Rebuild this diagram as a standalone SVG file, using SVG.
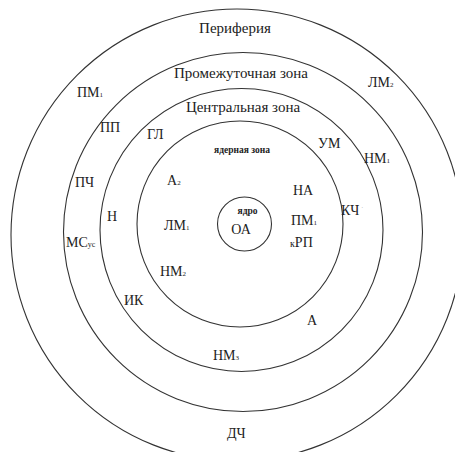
<svg xmlns="http://www.w3.org/2000/svg" width="455" height="452" viewBox="0 0 455 452">
<style>
.ring{fill:none;stroke:#333;stroke-width:1.1}
text{font-family:"Liberation Serif","Times New Roman",serif;fill:#222;font-size:14px}
.zone{font-size:15px}
.b{font-weight:bold;font-size:9.5px}
.s{font-size:7px}
</style>
<rect width="455" height="452" fill="#fff"/>
<g id="rings">
<circle id="periphery" class="ring" cx="237" cy="235" r="226"/>
<circle id="intermediate" class="ring" cx="243" cy="232" r="179.5"/>
<circle id="central" class="ring" cx="241.5" cy="230" r="141.5"/>
<circle id="nuclear" class="ring" cx="240" cy="224" r="103"/>
<circle id="core" class="ring" cx="244.5" cy="224" r="27"/>
</g>
<g id="zone-labels">
<text class="zone" x="235" y="33" text-anchor="middle">Периферия</text>
<text class="zone" x="241" y="78" text-anchor="middle">Промежуточная зона</text>
<text class="zone" x="243" y="112" text-anchor="middle">Центральная зона</text>
<text class="b" x="242" y="153" text-anchor="middle">ядерная зона</text>
<text class="b" x="247.5" y="214" text-anchor="middle">ядро</text>
<text x="241" y="234" text-anchor="middle" font-size="15">ОА</text>
</g>
<g id="labels">
<text x="167" y="185">А<tspan class="s">2</tspan></text>
<text x="164" y="230">ЛМ<tspan class="s">1</tspan></text>
<text x="160" y="276">НМ<tspan class="s">2</tspan></text>
<text x="293" y="195">НА</text>
<text x="291" y="225">ПМ<tspan class="s">1</tspan></text>
<text x="290" y="247"><tspan font-size="10">к</tspan>РП</text>
<text x="341" y="215">КЧ<tspan font-size="6" dx="2" dy="-5" fill="#999">·</tspan></text>
<text x="364" y="163">НМ<tspan class="s">1</tspan></text>
<text x="318" y="148">УМ</text>
<text x="368" y="87">ЛМ<tspan class="s">2</tspan></text>
<text x="77" y="97">ПМ<tspan class="s">1</tspan></text>
<text x="100" y="132">ПП</text>
<text x="147" y="139">ГЛ</text>
<text x="75" y="187">ПЧ</text>
<text x="107" y="221">Н</text>
<text x="66" y="247">МС<tspan font-size="8">ус</tspan></text>
<text x="124" y="305">ИК</text>
<text x="307" y="325">А</text>
<text x="213" y="360">НМ<tspan class="s">3</tspan></text>
<text x="227" y="438">ДЧ</text>
</g>
</svg>
